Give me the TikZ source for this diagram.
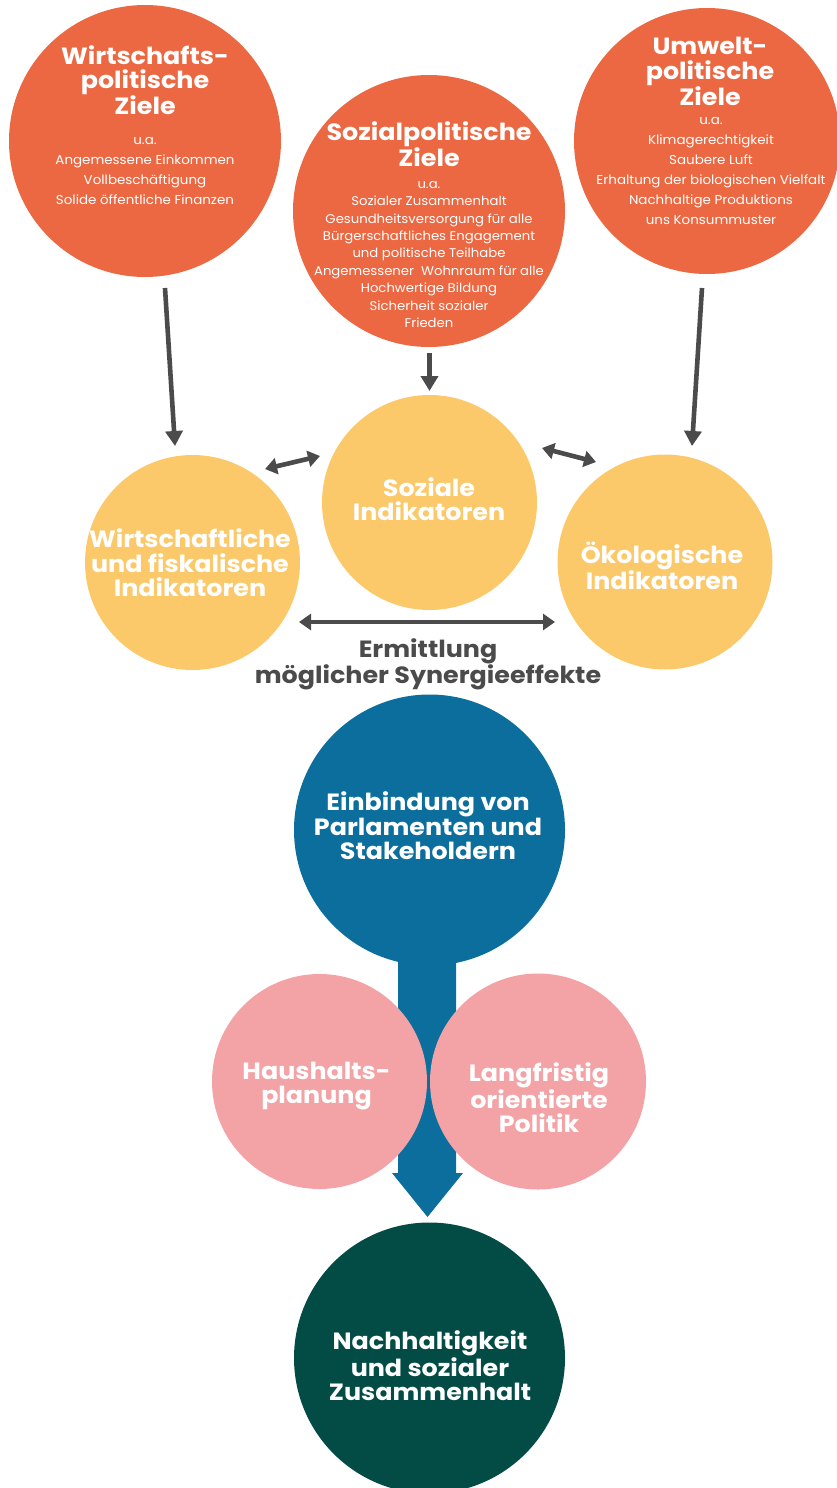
\documentclass[tikz,border=0pt]{standalone}
\usepackage{fontspec}
\setmainfont{Poppins}[FakeStretch=1.05]
\newfontfamily\headfont{Poppins}[FakeStretch=1.08]
\usetikzlibrary{arrows.meta,calc}

\definecolor{goalorange}{HTML}{EC6842}
\definecolor{indyellow}{HTML}{FCC96A}
\definecolor{partblue}{HTML}{0B6E9C}
\definecolor{toolpink}{HTML}{F3A3A5}
\definecolor{aimgreen}{HTML}{034C46}
\definecolor{arrowgray}{HTML}{4B4B4B}

\tikzset{
  disc/.style={circle, inner sep=0pt, minimum size=#1},
  bigtitle/.style={text=white, align=center, inner sep=0pt,
    font=\headfont\bfseries\fontsize{23.5}{24.5}\selectfont},
  itemlist/.style={text=white, align=center, inner sep=0pt,
    font=\fontsize{12.8}{20}\selectfont},
  densitemlist/.style={itemlist, font=\fontsize{12.6}{17.4}\selectfont},
  flowarrow/.style={draw=arrowgray, line width=4.6pt,
    -{Triangle[length=15pt,width=17pt]}},
  pairarrow/.style={draw=arrowgray, line width=4.6pt,
    {Triangle[length=12pt,width=16pt]}-{Triangle[length=12pt,width=16pt]}},
}

\begin{document}
\begin{tikzpicture}[x=1pt, y=-1pt]
\useasboundingbox (0,0) rectangle (836,1488);

% --- policy goals -------------------------------------------------------
\node[disc=272pt, fill=goalorange] (wgoal) at (145,141) {};
\node[disc=272pt, fill=goalorange] (sgoal) at (429,211) {};
\node[disc=266pt, fill=goalorange] (ugoal) at (707,141) {};

\node[bigtitle] (wgoalt) at (145,80) {Wirtschafts-\\politische\\Ziele};
\node[itemlist] (wgoall) at (145,171) {u.a.\\Angemessene Einkommen\\Vollbeschäftigung\\Solide öffentliche Finanzen};

\node[bigtitle] (sgoalt) at (429,144.5) {Sozialpolitische\\Ziele};
\node[densitemlist] (sgoall) at (429,254.5) {u.a.\\Sozialer Zusammenhalt\\Gesundheitsversorgung für alle\\Bürgerschaftliches Engagement\\und politische Teilhabe\\Angemessener\ \ Wohnraum für alle\\Hochwertige Bildung\\Sicherheit sozialer\\Frieden};

\node[bigtitle] (ugoalt) at (710,71.5) {Umwelt-\\politische\\Ziele};
\node[itemlist] (ugoall) at (711,171) {u.a.\\Klimagerechtigkeit\\Saubere Luft\\Erhaltung der biologischen Vielfalt\\Nachhaltige Produktions\\uns Konsummuster};

% --- indicators -----------------------------------------------------------
\node[disc=215pt, fill=indyellow] (wind) at (192.5,562.5) {};
\node[disc=215pt, fill=indyellow] (sind) at (429.5,502.5) {};
\node[disc=215pt, fill=indyellow] (uind) at (665,562) {};

\node[bigtitle] (windt) at (190,563) {Wirtschaftliche\\und fiskalische\\Indikatoren};
\node[bigtitle] (sindt) at (429,499) {Soziale\\Indikatoren};
\node[bigtitle] (uindt) at (662,566) {Ökologische\\Indikatoren};

% goal -> indicator arrows
\coordinate (wgoalout) at (165,288);
\coordinate (windin)   at (175,446);
\coordinate (sgoalout) at (429.5,353);
\coordinate (sindin)   at (429.5,391);
\coordinate (ugoalout) at (702,288);
\coordinate (uindin)   at (692,446);
\draw[flowarrow] (wgoalout) -- (windin);
\draw[flowarrow] (sgoalout) -- (sindin);
\draw[flowarrow] (ugoalout) -- (uindin);

% synergies between indicator groups
\coordinate (wsA) at (265,469);
\coordinate (wsB) at (320,456);
\coordinate (suA) at (542,448);
\coordinate (suB) at (596,462);
\coordinate (wuA) at (299,622);
\coordinate (wuB) at (555,622);
\draw[pairarrow] (wsA) -- (wsB);
\draw[pairarrow] (suA) -- (suB);
\draw[pairarrow] (wuA) -- (wuB);

\node[bigtitle, text=arrowgray] (synergy) at (428,664.5) {Ermittlung\\möglicher Synergieeffekte};

% --- participation, instruments and aim ------------------------------------
\node[disc=271pt, fill=partblue] (part) at (429.5,830) {};

% broad arrow from participation down to the aim
\coordinate (bigtip) at (427.5,1217);
\fill[partblue] ($(part.center)+(-31.5,60)$) -- ++(58,0) |- (463,1173)
  -- (bigtip) -- (392,1173) -- (398,1173) -- cycle;

\node[bigtitle] (partt) at (428,826) {Einbindung von\\Parlamenten und\\Stakeholdern};

\node[disc=215pt, fill=toolpink] (budget) at (319.5,1081.5) {};
\node[disc=216pt, fill=toolpink] (longterm) at (538,1081.5) {};
\node[bigtitle] (budgett) at (316.5,1086) {Haushalts-\\planung};
\node[bigtitle] (longtermt) at (539,1098) {Langfristig\\orientierte\\Politik};

\node[disc=271pt, fill=aimgreen] (aim) at (429.5,1358) {};
\node[bigtitle] (aimt) at (430,1366) {Nachhaltigkeit\\und sozialer\\Zusammenhalt};
\end{tikzpicture}
\end{document}
